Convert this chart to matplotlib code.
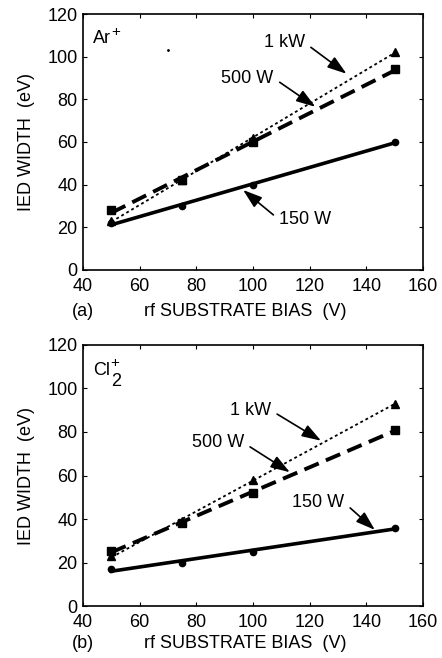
import matplotlib

matplotlib.use("Agg")
import matplotlib.pyplot as plt
import numpy as np

plt.rcParams["font.family"] = ["Liberation Sans", "DejaVu Sans"]

# rf substrate bias (V)
bias = [50, 75, 100, 150]

# IED width (eV), Ar+ ions
ar_1kw = [23, 42, 62, 102]
ar_500w = [28, 42, 60, 94]
ar_150w = [22, 30, 40, 60]

# IED width (eV), Cl2+ ions
cl_1kw = [23, 39, 58, 93]
cl_500w = [25.5, 38, 52, 81]
cl_150w = [17, 20, 25, 36]

x_ticks = [40, 60, 80, 100, 120, 140, 160]
y_ticks = [0, 20, 40, 60, 80, 100, 120]

# label text, text position, arrow tip, side of the text the arrow leaves from
ar_notes = [
    ("1 kW", (111, 106.5), (133, 92), 1),
    ("500 W", (98, 90), (122, 76.5), 1),
    ("150 W", (118.5, 23.5), (96.5, 37.5), 0),
]
cl_notes = [
    ("1 kW", (99, 90), (124, 76), 1),
    ("500 W", (87.5, 75), (113, 61.5), 1),
    ("150 W", (123, 47.5), (143, 35), 1),
]

FS = 13


def fit_line(ax, x, y, **kw):
    slope, icpt = np.polyfit(x, y, 1)
    xs = np.array([min(x), max(x)])
    ax.plot(xs, slope * xs + icpt, color="black", **kw)


def ion_label(ax, base, sub, sup):
    # element symbol with a near full-size charge and subscript, set by hand
    t = ax.text(43.5, 108.5, base, fontsize=FS, ha="left", va="center")
    ax.figure.canvas.draw()
    bb = t.get_window_extent()
    x_end = bb.x1 / ax.figure.dpi * 72
    y_mid = (bb.y0 + bb.y1) / 2 / ax.figure.dpi * 72
    if sub:
        ax.annotate(sub, xy=(0, 0), xytext=(x_end + 0.5, y_mid - 8),
                    xycoords="figure points", textcoords="figure points",
                    fontsize=FS, ha="left", va="center")
    ax.annotate(sup, xy=(0, 0), xytext=(x_end + 0.5, y_mid + 5),
                xycoords="figure points", textcoords="figure points",
                fontsize=FS - 2, ha="left", va="center")


def panel(ax, ion, series, notes, tag, label_y):
    (y1k, y500, y150) = series
    fit_line(ax, bias, y1k, linestyle=(0, (1.6, 1.6)), linewidth=1.3)
    fit_line(ax, bias, y500, linestyle=(0, (4, 2.0)), linewidth=2.8)
    fit_line(ax, bias, y150, linestyle="-", linewidth=2.6)
    ax.plot(bias, y1k, "^", color="black", markersize=5.5, linestyle="none")
    ax.plot(bias, y500, "s", color="black", markersize=5.5, linestyle="none")
    ax.plot(bias, y150, "o", color="black", markersize=4.5, linestyle="none")

    for text, (tx, ty), (hx, hy), side in notes:
        ax.annotate(text, xy=(hx, hy), xytext=(tx, ty), fontsize=FS,
                    ha="center", va="center",
                    arrowprops=dict(arrowstyle="-|>,head_length=0.9,head_width=0.3",
                                    color="black", lw=1.2, shrinkA=3, shrinkB=0,
                                    relpos=(side, 0.5)))

    ax.set_xlim(40, 160)
    ax.set_ylim(0, 120)
    ax.set_xticks(x_ticks)
    ax.set_yticks(y_ticks)
    ax.tick_params(direction="in", length=3, width=0.8, labelsize=FS,
                   top=True, right=True)
    ax.tick_params(axis="x", pad=6)
    ax.tick_params(axis="y", pad=4)
    for sp in ax.spines.values():
        sp.set_linewidth(1.2)
    ax.set_ylabel("IED WIDTH  (eV)", fontsize=FS, labelpad=9)

    fig.text(72 / 442, label_y, tag, fontsize=FS, ha="left", va="center")
    fig.text(245 / 442, label_y, "rf SUBSTRATE BIAS  (V)", fontsize=FS,
             ha="center", va="center")
    ion_label(ax, *ion)


fig = plt.figure(figsize=(4.42, 6.58), dpi=100)
ax_a = fig.add_axes([0.188, 0.5897, 0.769, 0.389])
ax_b = fig.add_axes([0.188, 0.0790, 0.769, 0.3967])

panel(ax_a, ("Ar", "", "+"), (ar_1kw, ar_500w, ar_150w), ar_notes, "(a)", 1 - 312 / 658)
# stray speck in the Ar+ panel
ax_a.plot([70], [103], ".", color="black", markersize=2)
panel(ax_b, ("Cl", "2", "+"), (cl_1kw, cl_500w, cl_150w), cl_notes, "(b)", 1 - 643 / 658)

fig.savefig("out.png", dpi=100)
